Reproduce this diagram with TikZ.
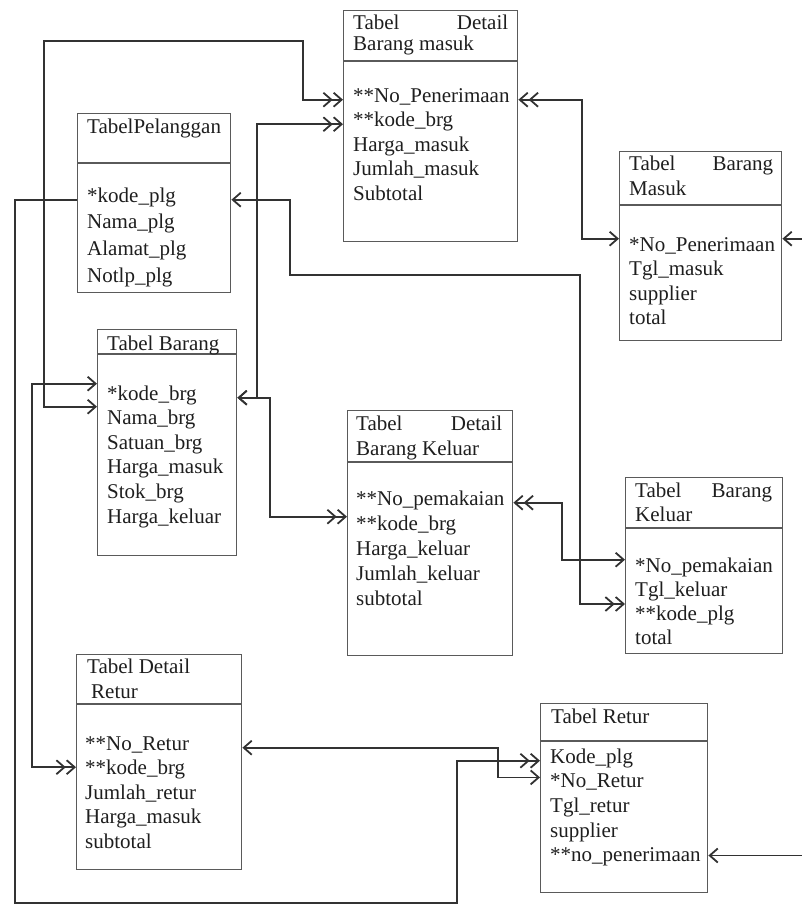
\documentclass[tikz,border=0pt]{standalone}
\usepackage{fontspec}
\setmainfont{Liberation Serif}
\usetikzlibrary{arrows.meta}
\definecolor{tinta}{RGB}{30,30,30}
\definecolor{garis}{RGB}{50,50,50}
\definecolor{bingkai}{RGB}{90,90,90}
\tikzset{>={Straight Barb[length=8pt,width=14pt]}}

\begin{document}
\begin{tikzpicture}[x=1pt, y=-1pt,
  font=\fontsize{21}{24.5}\selectfont, text=tinta,
  tabel/.style={draw=bingkai, line width=1.4pt, anchor=north west, inner sep=0pt},
  judul/.style={anchor=base west, inner sep=0pt},
  kolom/.style={anchor=base west, inner sep=0pt},
  hub/.style={draw=garis, line width=1.8pt}]

\useasboundingbox (0,0) rectangle (802,906);

% kotak tabel + garis pemisah judul
\foreach \nm/\px/\py/\lb/\tg/\sk in {dbm/343/10/174/231/61, plg/77/113/153/179/163,
    bm/619/151/162/189/205, brg/97/329/139/226/354, dbk/347/410/165/245/462,
    bk/625/477/157/176/528, dr/76/654/165/215/704, retur/540/703/167/189/741}
{
  \node[tabel, minimum width=\lb, minimum height=\tg] (\nm) at (\px,\py) {};
  \draw[draw=bingkai, line width=1.4pt] (\px,\sk) -- ++(\lb,0);
}

% judul
\node[judul] (dbm-j1) at (353,29) {\hbox to 155pt{Tabel\hfill Detail}};
\node[judul] (dbm-j2) at (353,50) {Barang masuk};
\node[judul] (plg-j1) at (87,133) {TabelPelanggan};
\node[judul] (bm-j1) at (629,170) {\hbox to 144pt{Tabel\hfill Barang}};
\node[judul] (bm-j2) at (629,195) {Masuk};
\node[judul] (brg-j1) at (107,350) {Tabel Barang};
\node[judul] (dbk-j1) at (356,430) {\hbox to 146pt{Tabel\hfill Detail}};
\node[judul] (dbk-j2) at (356,455) {Barang Keluar};
\node[judul] (bk-j1) at (635,497) {\hbox to 137pt{Tabel\hfill Barang}};
\node[judul] (bk-j2) at (635,521) {Keluar};
\node[judul] (dr-j1) at (87,673) {Tabel Detail};
\node[judul] (dr-j2) at (91,698) {Retur};
\node[judul] (retur-j1) at (551,723) {Tabel Retur};

% isi kolom
\foreach \nm/\tx [count=\i from 0] in {nopen/{**No\_Penerimaan}, kode/{**kode\_brg},
    hmasuk/{Harga\_masuk}, jmasuk/{Jumlah\_masuk}, sub/{Subtotal}}
  \node[kolom] (dbm-\nm) at (353,{102+24.5*\i}) {\tx};
\foreach \nm/\tx [count=\i from 0] in {kode/{*kode\_plg}, nama/{Nama\_plg},
    alamat/{Alamat\_plg}, notlp/{Notlp\_plg}}
  \node[kolom] (plg-\nm) at (87,{202+26.7*\i}) {\tx};
\foreach \nm/\tx [count=\i from 0] in {nopen/{*No\_Penerimaan}, tgl/{Tgl\_masuk},
    supp/{supplier}, total/{total}}
  \node[kolom] (bm-\nm) at (629,{251+24.5*\i}) {\tx};
\foreach \nm/\tx [count=\i from 0] in {kode/{*kode\_brg}, nama/{Nama\_brg},
    satuan/{Satuan\_brg}, hmasuk/{Harga\_masuk}, stok/{Stok\_brg}, hkeluar/{Harga\_keluar}}
  \node[kolom] (brg-\nm) at (107,{400+24.6*\i}) {\tx};
\foreach \nm/\tx [count=\i from 0] in {nopem/{**No\_pemakaian}, kode/{**kode\_brg},
    hkeluar/{Harga\_keluar}, jkeluar/{Jumlah\_keluar}, sub/{subtotal}}
  \node[kolom] (dbk-\nm) at (356,{505+25*\i}) {\tx};
\foreach \nm/\tx [count=\i from 0] in {nopem/{*No\_pemakaian}, tgl/{Tgl\_keluar},
    kode/{**kode\_plg}, total/{total}}
  \node[kolom] (bk-\nm) at (635,{572+24.3*\i}) {\tx};
\foreach \nm/\tx [count=\i from 0] in {noretur/{**No\_Retur}, kode/{**kode\_brg},
    jretur/{Jumlah\_retur}, hmasuk/{Harga\_masuk}, sub/{subtotal}}
  \node[kolom] (dr-\nm) at (85,{750+24.5*\i}) {\tx};
\foreach \nm/\tx [count=\i from 0] in {kode/{Kode\_plg}, noretur/{*No\_Retur},
    tgl/{Tgl\_retur}, supp/{supplier}, nopen/{**no\_penerimaan}}
  \node[kolom] (retur-\nm) at (550,{763+24.7*\i}) {\tx};

% relasi
\draw[hub, <->>] ([yshift=14pt]brg-kode.mid -| brg.west) -| ([xshift=-44pt, yshift=5pt]dr-kode.mid -| dr.west) -- ([yshift=5pt]dr-kode.mid -| dr.west);
\draw[hub, <->>] ([yshift=-9pt]brg-kode.mid -| brg.west) -| (44,41) -| ([xshift=-40pt]dbm-nopen.mid -| dbm.west) -- (dbm-nopen.mid -| dbm.west);
\draw[hub, <->>] (brg-kode.mid -| brg.east) -| ([xshift=-86pt]dbm-kode.mid -| dbm.west) -- (dbm-kode.mid -| dbm.west);
\draw[hub, <->>] (brg-kode.mid -| brg.east) -| ([xshift=-77pt, yshift=-14pt]dbk-nopem.mid -| dbk.west) -- ([yshift=-14pt]dbk-nopem.mid -| dbk.west);
\draw[hub, ->>] (plg-kode.mid -| plg.west) -| (15,903) -| ([xshift=-83pt]retur-kode.mid -| retur.west) -- (retur-kode.mid -| retur.west);
\draw[hub, <->>] (plg-kode.mid -| plg.east) -| (290,275) -| ([xshift=-45pt, yshift=-10pt]bk-tgl.mid -| bk.west) -- ([yshift=-10pt]bk-tgl.mid -| bk.west);
\draw[hub, <<->] (dbm-nopen.mid -| dbm.east) -| ([xshift=-37pt, yshift=10pt]bm-nopen.mid -| bm.west) -- ([yshift=10pt]bm-nopen.mid -| bm.west);
\draw[hub, <<->] (dbk-nopem.mid -| dbk.east) -| ([xshift=-63pt, yshift=10pt]bk-nopem.mid -| bk.west) -- ([yshift=10pt]bk-nopem.mid -| bk.west);
\draw[hub, <->] ([yshift=10pt]bm-nopen.mid -| bm.east) -| ([xshift=95pt, yshift=4pt]retur-nopen.mid -| retur.east) -- ([yshift=4pt]retur-nopen.mid -| retur.east);
\draw[hub, <->] (dr-noretur.mid -| dr.east) -| ([xshift=-42pt, yshift=8pt]retur-noretur.mid -| retur.west) -- ([yshift=8pt]retur-noretur.mid -| retur.west);
\end{tikzpicture}
\end{document}
